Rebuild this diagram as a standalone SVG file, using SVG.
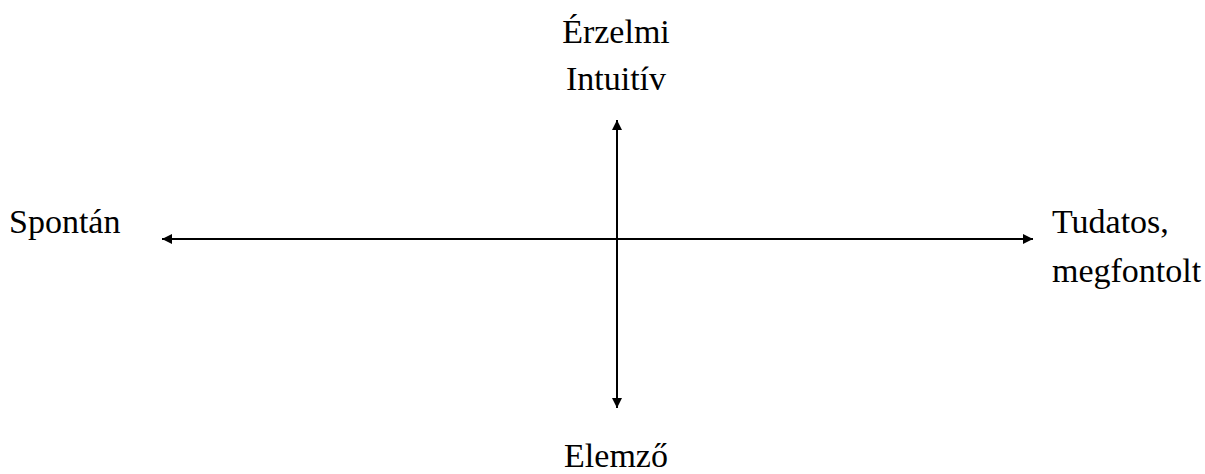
<svg xmlns="http://www.w3.org/2000/svg" width="1205" height="474" viewBox="0 0 1205 474">
<style>
text{font-family:"Liberation Serif","Times New Roman",serif;font-size:34px;fill:#000}
.ax{stroke:#000;stroke-width:2;fill:none}
</style>
<defs>
<marker id="ah" viewBox="0 0 10 10" refX="10" refY="5" markerWidth="10" markerHeight="10" markerUnits="userSpaceOnUse" orient="auto-start-reverse">
<path d="M0,0 L10,5 L0,10 Z" fill="#000"/>
</marker>
</defs>
<rect width="1205" height="474" fill="#fff"/>
<g id="connectors">
<line class="ax" x1="162" y1="239" x2="1033" y2="239" marker-start="url(#ah)" marker-end="url(#ah)"/>
<line class="ax" x1="617" y1="120" x2="617" y2="408" marker-start="url(#ah)" marker-end="url(#ah)"/>
</g>
<g id="top"><text x="616" y="43" text-anchor="middle">Érzelmi</text><text x="616" y="90" text-anchor="middle">Intuitív</text></g>
<g id="left"><text x="9" y="233">Spontán</text></g>
<g id="right"><text x="1052" y="233">Tudatos,</text><text x="1052" y="282">megfontolt</text></g>
<g id="bottom"><text x="616" y="467" text-anchor="middle">Elemző</text></g>
</svg>
